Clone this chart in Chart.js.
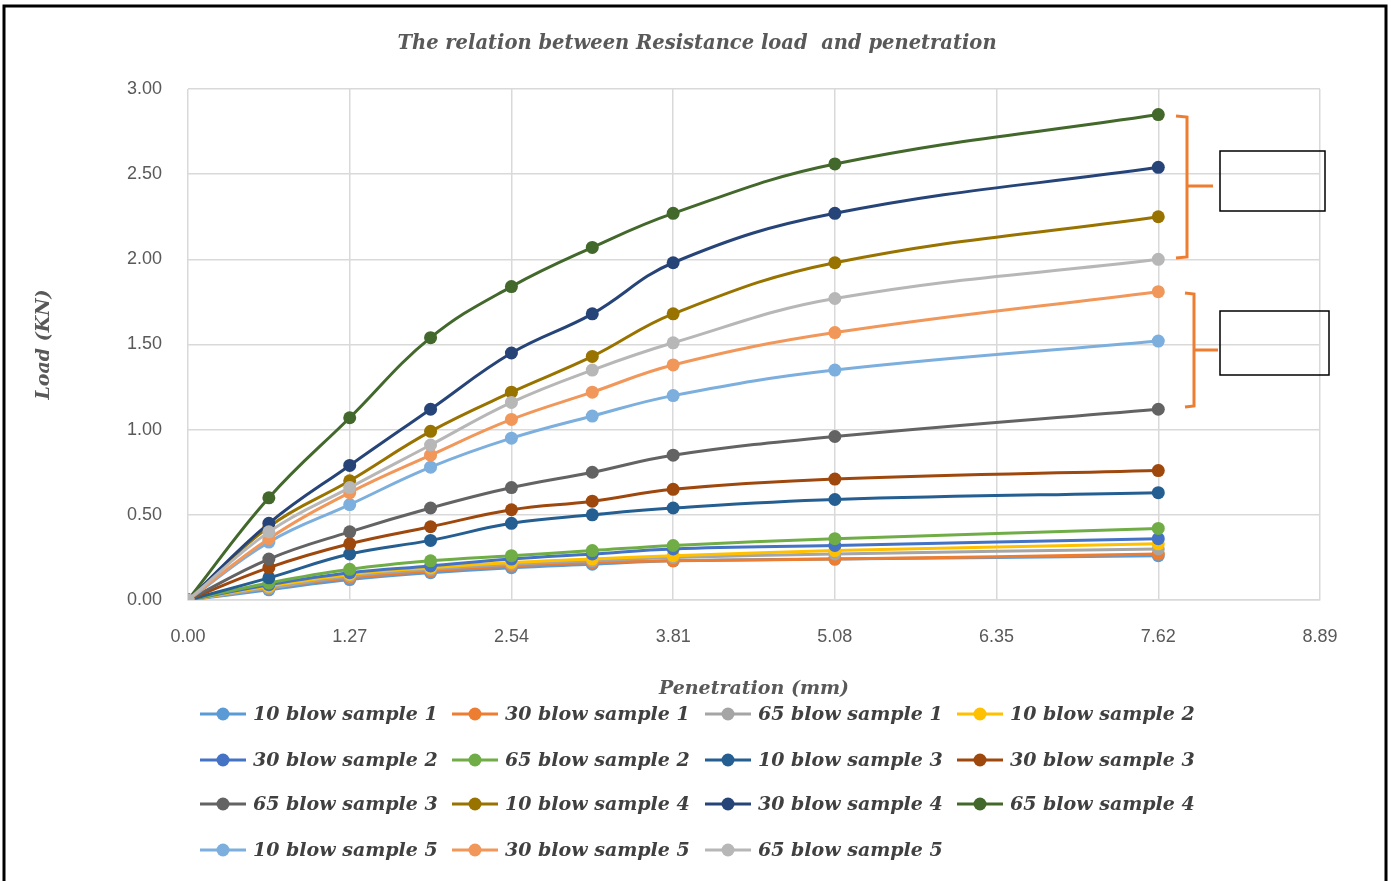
<!DOCTYPE html>
<html>
<head>
<meta charset="utf-8">
<script src="https://cdn.jsdelivr.net/npm/chart.js@4.4.1/dist/chart.umd.min.js"></script>
<style>
  html, body { margin: 0; padding: 0; background: #fff; }
  #wrap { width: 1391px; height: 881px; position: relative; }
</style>
</head>
<body>
<div id="wrap"><canvas id="loadChart" width="1391" height="881"></canvas></div>
<script>
// penetration (mm) readings
const penetration = [0, 0.635, 1.27, 1.905, 2.54, 3.175, 3.81, 5.08, 7.62];
const xTicks = [0, 1.27, 2.54, 3.81, 5.08, 6.35, 7.62, 8.89];

// load (KN) per sample
const blow10s1 = [0, 0.06, 0.12, 0.16, 0.19, 0.21, 0.23, 0.24, 0.26];
const blow30s1 = [0, 0.07, 0.13, 0.17, 0.20, 0.22, 0.23, 0.24, 0.27];
const blow65s1 = [0, 0.07, 0.14, 0.18, 0.21, 0.23, 0.25, 0.27, 0.30];
const blow10s2 = [0, 0.08, 0.15, 0.19, 0.22, 0.24, 0.26, 0.29, 0.33];
const blow30s2 = [0, 0.09, 0.16, 0.20, 0.24, 0.27, 0.30, 0.32, 0.36];
const blow65s2 = [0, 0.10, 0.18, 0.23, 0.26, 0.29, 0.32, 0.36, 0.42];
const blow10s3 = [0, 0.13, 0.27, 0.35, 0.45, 0.50, 0.54, 0.59, 0.63];
const blow30s3 = [0, 0.19, 0.33, 0.43, 0.53, 0.58, 0.65, 0.71, 0.76];
const blow65s3 = [0, 0.24, 0.40, 0.54, 0.66, 0.75, 0.85, 0.96, 1.12];
const blow10s4 = [0, 0.43, 0.70, 0.99, 1.22, 1.43, 1.68, 1.98, 2.25];
const blow30s4 = [0, 0.45, 0.79, 1.12, 1.45, 1.68, 1.98, 2.27, 2.54];
const blow65s4 = [0, 0.60, 1.07, 1.54, 1.84, 2.07, 2.27, 2.56, 2.85];
const blow10s5 = [0, 0.34, 0.56, 0.78, 0.95, 1.08, 1.20, 1.35, 1.52];
const blow30s5 = [0, 0.36, 0.63, 0.85, 1.06, 1.22, 1.38, 1.57, 1.81];
const blow65s5 = [0, 0.40, 0.66, 0.91, 1.16, 1.35, 1.51, 1.77, 2.00];

const seriesNames = [
    '10 blow sample 1', '30 blow sample 1', '65 blow sample 1', '10 blow sample 2',
    '30 blow sample 2', '65 blow sample 2', '10 blow sample 3', '30 blow sample 3',
    '65 blow sample 3', '10 blow sample 4', '30 blow sample 4', '65 blow sample 4',
    '10 blow sample 5', '30 blow sample 5', '65 blow sample 5'
];
const seriesValues = [
    blow10s1, blow30s1, blow65s1, blow10s2, blow30s2, blow65s2, blow10s3, blow30s3,
    blow65s3, blow10s4, blow30s4, blow65s4, blow10s5, blow30s5, blow65s5
];
const seriesColors = [
    '#5B9BD5', '#ED7D31', '#A5A5A5', '#FFC000', '#4472C4', '#70AD47', '#255E91', '#9E480E',
    '#636363', '#997300', '#264478', '#43682B', '#7CAFDD', '#F1975A', '#B7B7B7'
];

const chartTitle = 'The relation between Resistance load  and penetration';

const datasets = seriesNames.map((name, i) => ({
    label: name,
    data: penetration.map((x, j) => ({ x: x, y: seriesValues[i][j] })),
    borderColor: seriesColors[i],
    backgroundColor: seriesColors[i],
    borderWidth: 3,
    pointRadius: 6.5,
    pointBorderWidth: 0,
    tension: 0.4,
    order: -i
}));

const serifFont = "'DejaVu Serif', 'Liberation Serif', serif";
const textGrey = '#595959';

// title, legend grid, brackets and outer frame
const extras = {
    id: 'extras',
    afterDraw(chart) {
        const ctx = chart.ctx;
        ctx.save();

        // title centred on the page
        ctx.font = 'italic bold 19.5px ' + serifFont;
        ctx.fillStyle = textGrey;
        ctx.textAlign = 'center';
        ctx.textBaseline = 'middle';
        ctx.fillText(chartTitle, 697, 44);

        // legend, left aligned in 4 columns
        const colX = [200, 452, 705, 957];
        const rowY = [714, 760, 804, 850];
        ctx.font = 'italic bold 19px ' + serifFont;
        ctx.textAlign = 'left';
        chart.data.datasets.forEach((ds, i) => {
            const x = colX[i % 4], y = rowY[Math.floor(i / 4)];
            ctx.strokeStyle = ds.borderColor;
            ctx.lineWidth = 3;
            ctx.beginPath();
            ctx.moveTo(x, y);
            ctx.lineTo(x + 46, y);
            ctx.stroke();
            ctx.fillStyle = ds.borderColor;
            ctx.beginPath();
            ctx.arc(x + 23, y, 6.5, 0, Math.PI * 2);
            ctx.fill();
            ctx.fillStyle = '#404040';
            ctx.fillText(ds.label, x + 53, y + 1);
        });

        // orange brackets
        ctx.strokeStyle = '#ED7D31';
        ctx.lineWidth = 3;
        ctx.beginPath();
        ctx.moveTo(1176, 116); ctx.lineTo(1187, 117); ctx.lineTo(1187, 257); ctx.lineTo(1176, 258);
        ctx.moveTo(1187, 186); ctx.lineTo(1213, 186);
        ctx.moveTo(1185, 293); ctx.lineTo(1194, 294); ctx.lineTo(1194, 406); ctx.lineTo(1185, 407);
        ctx.moveTo(1194, 350); ctx.lineTo(1218, 350);
        ctx.stroke();

        // empty boxes
        ctx.strokeStyle = '#000';
        ctx.lineWidth = 1.5;
        ctx.strokeRect(1220, 151, 105, 60);
        ctx.strokeRect(1220, 311, 109, 64);

        // outer frame
        ctx.lineWidth = 3;
        ctx.beginPath();
        ctx.moveTo(4, 881); ctx.lineTo(4, 6); ctx.lineTo(1386, 6); ctx.lineTo(1386, 881);
        ctx.stroke();
        ctx.restore();
    }
};

new Chart(document.getElementById('loadChart').getContext('2d'), {
    type: 'line',
    data: { datasets: datasets },
    options: {
        responsive: false,
        animation: false,
        layout: { padding: { top: 89, left: 20, right: 71, bottom: 176 } },
        plugins: {
            legend: { display: false },
            tooltip: { enabled: false },
            title: { display: false }
        },
        scales: {
            x: {
                type: 'linear',
                min: 0,
                max: 8.89,
                afterBuildTicks: (scale) => { scale.ticks = xTicks.map(v => ({ value: v })); },
                afterFit: (scale) => { scale.height = 105; },
                ticks: {
                    color: textGrey,
                    padding: 26,
                    font: { family: "'Liberation Sans', sans-serif", size: 18 },
                    callback: (v) => Number(v).toFixed(2)
                },
                grid: { color: '#d9d9d9', lineWidth: 1.5, drawTicks: false },
                border: { color: '#d9d9d9', width: 1.5 },
                title: {
                    display: true,
                    text: 'Penetration (mm)',
                    color: textGrey,
                    font: { family: serifFont, size: 19, style: 'italic', weight: 'bold' },
                    padding: { top: 0, bottom: 5 }
                }
            },
            y: {
                min: 0,
                max: 3,
                afterFit: (scale) => { scale.width = 168; },
                ticks: {
                    stepSize: 0.5,
                    color: textGrey,
                    padding: 26,
                    font: { family: "'Liberation Sans', sans-serif", size: 18 },
                    callback: (v) => Number(v).toFixed(2)
                },
                grid: { color: '#d9d9d9', lineWidth: 1.5, drawTicks: false },
                border: { display: false },
                title: {
                    display: true,
                    text: 'Load (KN)',
                    color: textGrey,
                    font: { family: serifFont, size: 19, style: 'italic', weight: 'bold' },
                    padding: { top: 13, bottom: 0 }
                }
            }
        }
    },
    plugins: [extras]
});
</script>
</body>
</html>
